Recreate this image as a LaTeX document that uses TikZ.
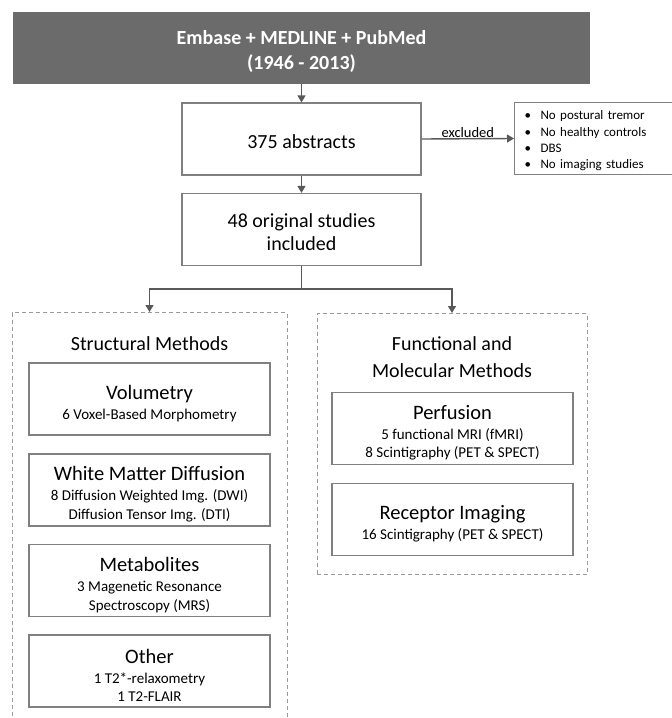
\documentclass[tikz,border=0pt]{standalone}
\usepackage{fontspec}
\setmainfont{Carlito}
\usetikzlibrary{arrows.meta}
\definecolor{darkfill}{HTML}{6B6B6B}
\definecolor{boxgray}{HTML}{808080}
\definecolor{arrowgray}{HTML}{595959}
\definecolor{dashgray}{HTML}{9A9A9A}
\begin{document}
\begin{tikzpicture}[x=1pt,y=-1pt,
  topbox/.style={rectangle, fill=darkfill, draw=none, text=white, align=center,
    font=\bfseries\fontsize{20}{25}\selectfont, minimum width=577pt, minimum height=72pt, inner sep=0pt},
  box/.style={rectangle, draw=boxgray, line width=1.2pt, fill=white, inner sep=0pt, align=center},
  mainbox/.style={box, minimum width=239pt, minimum height=72pt, font=\fontsize{20}{23}\selectfont},
  inbox/.style={box, minimum width=241pt, minimum height=72pt, font=\fontsize{15}{18.5}\selectfont},
  dashbox/.style={rectangle, draw=dashgray, line width=1pt, dash pattern=on 4pt off 3pt, inner sep=0pt},
  arr/.style={draw=arrowgray, line width=1.4pt, -{Triangle[length=7pt,width=8pt]}},
  conn/.style={draw=arrowgray, line width=1.4pt}
]
\useasboundingbox (0,0) rectangle (672,718);
\clip (0,0) rectangle (672,718);

\node[topbox] (db) at (301.5,48) {\rule{0pt}{22pt}Embase + MEDLINE + PubMed\\(1946 - 2013)};
\node[mainbox] (abs) at (301.5,139) {\rule{0pt}{20pt}375 abstracts};
\node[box, anchor=west, text width=180pt, inner xsep=10pt, minimum height=72pt, align=left,
      font=\fontsize{13}{16.3}\selectfont] (excl) at (514,138.5)
  {\rule{0pt}{14pt}\makebox[16pt][l]{\textbullet}No postural tremor\\
   \makebox[16pt][l]{\textbullet}No healthy controls\\
   \makebox[16pt][l]{\textbullet}DBS\\
   \makebox[16pt][l]{\textbullet}No imaging studies};
\node[mainbox] (inc) at (301.5,229.5) {\rule{0pt}{20pt}48 original studies\\included};

\draw[arr] (db.south) -- (abs.north);
\draw[arr] (abs.east) -- (excl.west) node[midway, above, inner sep=0.5pt, font=\fontsize{14.5}{16}\selectfont] (exlab) {excluded};
\draw[arr] (abs.south) -- (inc.north);

\node[dashbox, anchor=north, minimum width=275pt, minimum height=430pt] (struct) at (149.5,312) {};
\node[dashbox, anchor=north, minimum width=270pt, minimum height=261pt] (func) at (452,313) {};

\coordinate (split) at (301.5,289);
\draw[conn] (inc.south) -- (split);
\draw[arr] (split) -| (struct.north);
\draw[arr] (split) -| (func.north);

\node[font=\fontsize{20}{23}\selectfont] (sttitle) at (149.5,343.5) {Structural Methods};
\node[align=center, font=\fontsize{20}{27}\selectfont] (fntitle) at (452,357) {Functional and\\Molecular Methods};

\node[inbox] (vol) at (149.5,399) {{\fontsize{20.5}{20}\selectfont\rule{0pt}{23pt}Volumetry}\\[1.5pt]6 Voxel-Based Morphometry};
\node[inbox] (wmd) at (149.5,490) {{\fontsize{20.5}{20}\selectfont\rule{0pt}{23pt}White Matter Diffusion}\\[1.5pt]8 Diffusion Weighted Img. (DWI)\\Diffusion Tensor Img. (DTI)};
\node[inbox] (met) at (149.5,580.5) {{\fontsize{20.5}{20}\selectfont\rule{0pt}{23pt}Metabolites}\\[1.5pt]3 Magenetic Resonance\\Spectroscopy (MRS)};
\node[inbox] (oth) at (149.5,671) {{\fontsize{20.5}{20}\selectfont\rule{0pt}{23pt}Other}\\[1.5pt]1 T2*-relaxometry\\1 T2-FLAIR};

\node[inbox] (perf) at (452.5,428.5) {{\fontsize{20.5}{20}\selectfont\rule{0pt}{23pt}Perfusion}\\[1.5pt]5 functional MRI (fMRI)\\8 Scintigraphy (PET \& SPECT)};
\node[inbox] (rec) at (452.5,519.5) {{\fontsize{20.5}{20}\selectfont\rule{0pt}{23pt}Receptor Imaging}\\[1.5pt]16 Scintigraphy (PET \& SPECT)};
\end{tikzpicture}
\end{document}
